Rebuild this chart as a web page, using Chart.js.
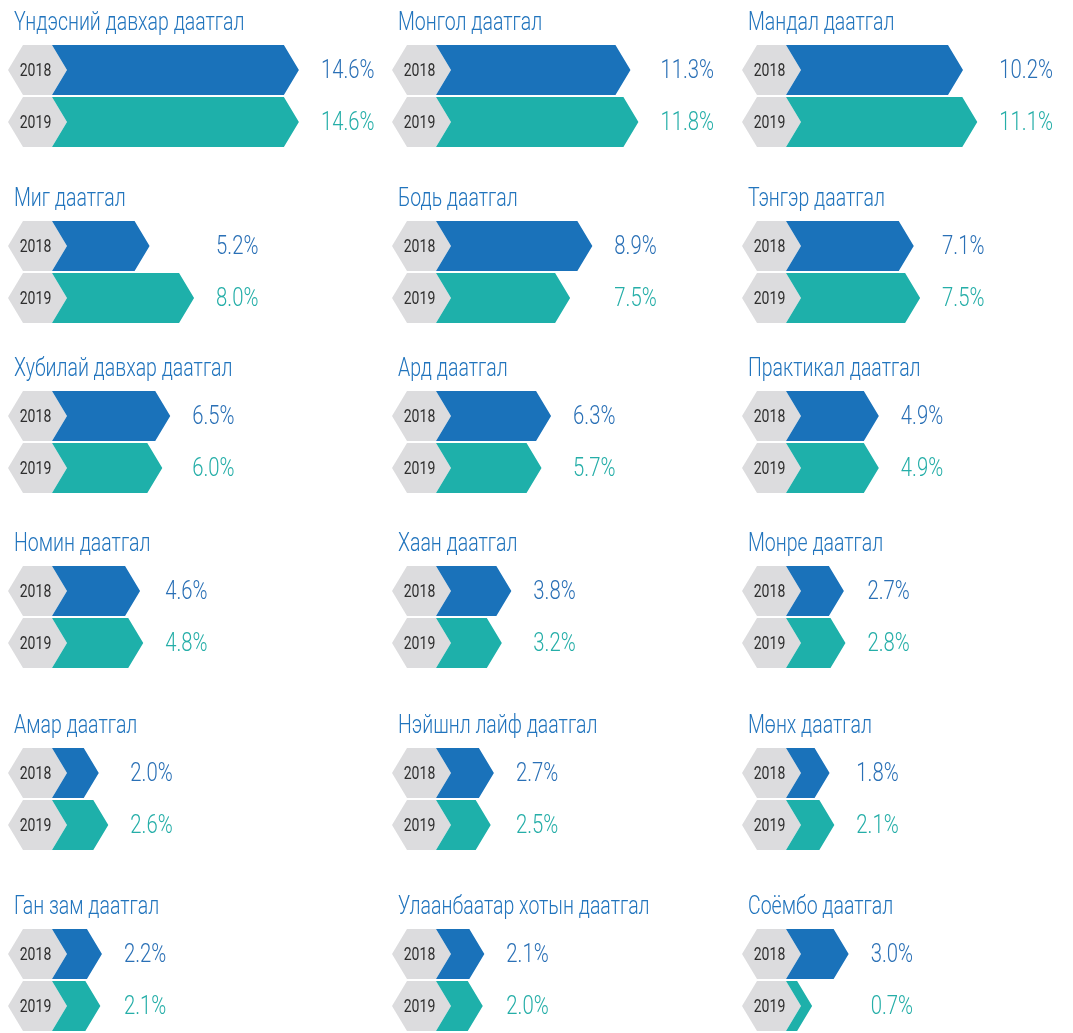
<!DOCTYPE html>
<html lang="mn">
<head>
<meta charset="UTF-8">
<title>Даатгалын зах зээлд эзлэх хувь</title>
<script src="https://cdn.jsdelivr.net/npm/chart.js"></script>
<style>
    html, body { margin: 0; padding: 0; background: #fff; overflow: hidden; }
    #wrap { position: relative; width: 1073px; height: 1033px; overflow: hidden; }
    #wrap canvas { position: absolute; }
</style>
</head>
<body>
<div id="wrap"></div>
<script>
    // өгөгдөл
    const companies = [
        'Үндэсний давхар даатгал', 'Монгол даатгал', 'Мандал даатгал',
        'Миг даатгал', 'Бодь даатгал', 'Тэнгэр даатгал',
        'Хубилай давхар даатгал', 'Ард даатгал', 'Практикал даатгал',
        'Номин даатгал', 'Хаан даатгал', 'Монре даатгал',
        'Амар даатгал', 'Нэйшнл лайф даатгал', 'Мөнх даатгал',
        'Ган зам даатгал', 'Улаанбаатар хотын даатгал', 'Соёмбо даатгал'
    ];
    const years = ['2018', '2019'];
    const share2018 = [14.6, 11.3, 10.2, 5.2, 8.9, 7.1, 6.5, 6.3, 4.9, 4.6, 3.8, 2.7, 2.0, 2.7, 1.8, 2.2, 2.1, 3.0];
    const share2019 = [14.6, 11.8, 11.1, 8.0, 7.5, 7.5, 6.0, 5.7, 4.9, 4.8, 3.2, 2.8, 2.6, 2.5, 2.1, 2.1, 2.0, 0.7];

    // байрлал
    const colLeft = [0, 384, 734];
    const rowTop = [0, 176, 346, 521, 703, 884];
    const W = 384, H = 176;

    const BLUE = '#1a72ba';
    const TEAL = '#1eb0aa';
    const GREY = '#dcdcde';

    // нарийн (condensed) үсэг
    function narrowText(ctx, txt, x, y, size, color, align, weight) {
        ctx.save();
        ctx.translate(x, y);
        ctx.scale(0.78, 1);
        ctx.font = (weight || 300) + ' ' + size + 'px Roboto, "Noto Sans", sans-serif';
        ctx.fillStyle = color;
        ctx.textAlign = align;
        ctx.textBaseline = 'middle';
        ctx.fillText(txt, 0, 0);
        ctx.restore();
    }

    const arrowPlugin = {
        id: 'arrows',
        beforeDatasetsDraw(chart, args, opts) {
            const ctx = chart.ctx;
            const meta = chart.getDatasetMeta(0);
            const colors = chart.data.datasets[0].backgroundColor;
            const t = 15;
            let maxTip = 0;
            const bars = meta.data.map(b => b.getProps(['x', 'y', 'base', 'height'], true));

            bars.forEach((b, i) => {
                const top = b.y - b.height / 2, bot = b.y + b.height / 2;
                const x0 = b.base;
                const xe = Math.max(b.x, x0 + 6);
                const h0 = x0 - 44;

                // саарал зургаан өнцөгт
                ctx.fillStyle = GREY;
                ctx.beginPath();
                ctx.moveTo(h0, b.y);
                ctx.lineTo(h0 + t, top);
                ctx.lineTo(x0, top);
                ctx.lineTo(x0 + t, b.y);
                ctx.lineTo(x0, bot);
                ctx.lineTo(h0 + t, bot);
                ctx.closePath();
                ctx.fill();

                // сум
                ctx.fillStyle = colors[i];
                ctx.beginPath();
                ctx.moveTo(x0, top);
                ctx.lineTo(xe, top);
                ctx.lineTo(xe + t, b.y);
                ctx.lineTo(xe, bot);
                ctx.lineTo(x0, bot);
                ctx.lineTo(x0 + t, b.y);
                ctx.closePath();
                ctx.fill();

                narrowText(ctx, chart.data.labels[i], (h0 + x0 + t) / 2 - 2, b.y + 1, 18, '#2e2e2e', 'center', 400);

                maxTip = Math.max(maxTip, xe + t);
            });

            // хувь
            bars.forEach((b, i) => {
                const v = chart.data.datasets[0].data[i];
                narrowText(ctx, v.toFixed(1) + '%', maxTip + 22, b.y + 1, 26,
                    i === 0 ? '#2a70b6' : '#25aea8', 'left');
            });

            // гарчиг
            narrowText(ctx, opts.title, 14, 24, 25, '#2174bd', 'left');
            return false;
        }
    };

    const wrap = document.getElementById('wrap');

    companies.forEach((name, i) => {
        const canvas = document.createElement('canvas');
        canvas.width = W;
        canvas.height = H;
        canvas.style.width = W + 'px';
        canvas.style.height = H + 'px';
        canvas.style.left = colLeft[i % 3] + 'px';
        canvas.style.top = rowTop[Math.floor(i / 3)] + 'px';
        wrap.appendChild(canvas);

        new Chart(canvas, {
            type: 'bar',
            data: {
                labels: years,
                datasets: [{
                    data: [share2018[i], share2019[i]],
                    backgroundColor: [BLUE, TEAL],
                    barThickness: 50
                }]
            },
            options: {
                indexAxis: 'y',
                responsive: false,
                animation: false,
                layout: { padding: { left: 52, right: 62, top: 44, bottom: 28 } },
                scales: {
                    x: { display: false, min: 0, max: 17 },
                    y: { display: false }
                },
                plugins: {
                    legend: { display: false },
                    tooltip: { enabled: false },
                    arrows: { title: name }
                }
            },
            plugins: [arrowPlugin]
        });
    });
</script>
</body>
</html>
